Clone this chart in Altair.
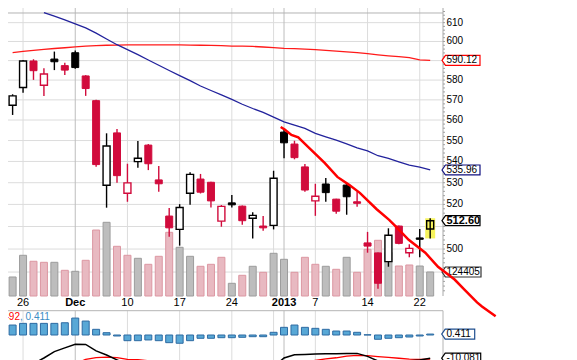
import altair as alt
import pandas as pd
import numpy as np

# ---------------- data ----------------
idx = list(range(41))
day_labels = ["Nov 23", "Nov 26", "Nov 27", "Nov 28", "Nov 29", "Nov 30", "Dec 3", "Dec 4", "Dec 5",
              "Dec 6", "Dec 7", "Dec 10", "Dec 11", "Dec 12", "Dec 13", "Dec 14", "Dec 17", "Dec 18",
              "Dec 19", "Dec 20", "Dec 21", "Dec 24", "Dec 26", "Dec 27", "Dec 28", "Dec 31", "Jan 2",
              "Jan 3", "Jan 4", "Jan 7", "Jan 8", "Jan 9", "Jan 10", "Jan 11", "Jan 14", "Jan 15",
              "Jan 16", "Jan 17", "Jan 18", "Jan 22", "Jan 23"]
opens = [567.3, 576.2, 589.8, 577.4, 590.8, 587.4, 594.1, 582.1, 569.6, 528.8, 553.7, 525.1, 539.9,
         547.8, 531.3, 514.7, 508.7, 525.1, 531.7, 530.2, 512.4, 520.7, 519.2, 513.7, 510.2, 510.5,
         554.1, 548.3, 537.4, 521.6, 529.4, 522.4, 528.9, 521.2, 502.7, 498.3, 494.5, 510.2, 498.4,
         504.9, 508.9]
highs = [572.8, 590.3, 590.7, 586.1, 594.7, 588.9, 595.2, 582.5, 570.0, 553.5, 555.6, 538.9, 549.8,
         548.3, 537.8, 518.4, 520.1, 534.9, 534.1, 530.5, 519.7, 524.3, 519.5, 516.4, 514.7, 535.6,
         555.6, 549.9, 538.8, 529.5, 532.2, 522.6, 529.7, 525.8, 507.6, 498.5, 509.2, 510.5, 502.1,
         508.9, 513.7]
lows = [562.5, 573.6, 580.1, 572.0, 585.1, 582.6, 585.8, 572.0, 537.5, 518.5, 530.0, 521.2, 537.0,
        535.9, 525.8, 505.4, 501.5, 519.8, 525.0, 518.6, 509.9, 518.6, 510.8, 504.6, 508.1, 508.7,
        541.5, 541.0, 525.8, 514.8, 521.2, 515.7, 515.3, 518.9, 498.4, 482.9, 492.3, 502.1, 496.4,
        496.4, 504.7]
closes = [572.0, 589.8, 584.8, 583.1, 589.4, 585.1, 586.4, 575.7, 538.5, 547.4, 533.3, 529.9, 541.5,
          538.9, 529.5, 509.4, 518.6, 533.9, 525.6, 521.6, 519.1, 519.8, 512.6, 515.0, 509.4, 532.1,
          548.9, 541.8, 526.6, 523.7, 525.4, 516.9, 523.5, 520.5, 501.3, 485.2, 506.1, 502.5, 500.3,
          504.3, 512.6]
volumes = [98500, 211000, 180000, 174700, 174700, 133200, 128000, 185000, 342000, 382000, 257600,
           211000, 195400, 164300, 205800, 330200, 252400, 205800, 154000, 164300, 200600, 65800,
           107300, 154000, 122800, 221300, 190200, 122800, 200600, 164300, 154000, 138400, 200600,
           122800, 242100, 288700, 226500, 155500, 160700, 155500, 124405]
sma50_idx = list(range(3, 41))
sma50 = [615.4, 613.5, 611.5, 609.3, 607.2, 604.4, 601.3, 598.3, 595.7, 593.1, 590.3, 587.6, 584.9,
         582.3, 579.7, 577.0, 574.7, 572.5, 570.2, 567.8, 565.7, 563.8, 561.4, 559.1, 557.5, 555.9,
         553.5, 551.8, 550.2, 548.4, 546.5, 545.0, 542.7, 541.5, 539.8, 538.2, 537.3, 535.96]
sma200 = [594.2, 594.8, 595.3, 595.8, 596.3, 596.7, 597.2, 597.6, 597.8, 598.0, 598.1, 598.2, 598.2,
          598.2, 598.2, 598.2, 598.2, 598.1, 598.0, 597.9, 597.8, 597.6, 597.5, 597.4, 597.1, 596.8,
          596.4, 596.2, 596.0, 595.7, 595.3, 594.9, 594.5, 594.1, 593.6, 593.0, 592.5, 592.1, 591.6,
          590.4, 590.12]
trend_idx = [25.68, 26.06, 26.71, 27.36, 28.30, 29.89, 31.11, 32.23, 33.26, 34.85, 36.07, 36.72,
             37.94, 39.53, 40.75, 42.34, 43.28, 44.49, 44.96, 46.27]
trend_price = [556.6, 555.4, 552.7, 551.5, 546.9, 539.3, 532.7, 529.0, 525.3, 517.9, 513.0, 509.9,
               504.1, 498.4, 492.3, 486.8, 482.5, 477.1, 475.4, 471.3]
macd_hist = [4.33, 5.06, 5.06, 5.06, 5.06, 5.32, 7.36, 6.06, 2.47, 1.0, -0.43, -2.47, -2.47, -2.16,
             -2.47, -3.33, -3.59, -2.47, -1.43, -1.43, -1.17, -1.17, -1.0, -0.74, -0.74, 1.17, 3.33,
             4.33, 3.33, 2.9, 2.47, 1.73, 1.73, 1.17, 0.1, -1.86, -1.43, -1.17, -0.87, -0.43, 0.411]
macd_line = [-17.0, -14.5, -12.5, -10.0, -7.2, -5.6, -4.0, -4.1, -6.9, -8.7, -10.8, -13.0, -14.8,
             -16.2, -17.3, -18.6, -19.6, -19.8, -19.5, -19.0, -18.5, -18.0, -17.4, -16.8, -16.0,
             -13.8, -10.0, -8.6, -8.5, -8.3, -8.2, -8.1, -8.0, -8.0, -9.3, -11.3, -11.4, -11.4,
             -11.2, -10.9, -10.081]
macd_signal = [-22.0, -20.5, -19.0, -17.5, -16.0, -14.5, -12.5, -10.6, -9.8, -9.6, -9.8, -10.6, -10.7,
               -11.2, -11.8, -12.6, -13.4, -14.0, -14.4, -14.7, -15.0, -15.2, -15.3, -15.3, -15.2,
               -14.9, -14.0, -13.0, -12.0, -11.0, -10.4, -9.9, -9.2, -8.9, -9.0, -9.4, -9.7, -10.1,
               -10.5, -10.6, -10.492]
week_idx = [1, 11, 16, 21, 25, 29, 34, 39]
month_idx = [6, 26]
xlab_idx = [1, 11, 16, 21, 29, 34, 39]
xlab_text = ["26", "10", "17", "24", "7", "14", "22"]
xlab_bold_idx = [6, 26]
xlab_bold_text = ["Dec", "2013"]
price_grid = [490, 500, 510, 520, 530, 540, 550, 560, 570, 580, 590, 600, 610]
# tick labels that are not hidden behind the value boxes
price_ticklabels = [500, 520, 530, 540, 550, 560, 570, 580, 600, 610]

# ---------------- frames ----------------
df = pd.DataFrame({"i": idx, "day": day_labels, "o": opens, "h": highs, "l": lows, "c": closes,
                   "vol": volumes, "hist": macd_hist, "macd": macd_line, "sig": macd_signal,
                   "sma200": sma200})
prev = df["c"].shift(1).fillna(-1.0)
df["dir"] = np.where(df["c"] >= prev, "up", "down")
df["hollow"] = df["c"] > df["o"]
df["last"] = df["i"] == idx[-1]
s50 = pd.DataFrame({"i": sma50_idx, "v": sma50})
trend = pd.DataFrame({"i": trend_idx, "p": trend_price})
weeks = pd.DataFrame({"i": week_idx})
months = pd.DataFrame({"i": month_idx})
pgrid = pd.DataFrame({"p": price_grid})
plabels = pd.DataFrame({"p": price_ticklabels, "t": [str(v) for v in price_ticklabels]})
minor = pd.DataFrame({"p": list(range(482, 618, 2))})
xl = pd.DataFrame({"i": xlab_idx, "t": xlab_text})
xlb = pd.DataFrame({"i": xlab_bold_idx, "t": xlab_bold_text})
top_border = pd.DataFrame({"p": [615.2]})

FONT = "Liberation Sans"
RED = "#d10b3c"
PW = 435  # plot width inside the chart (px)

xs = alt.Scale(domain=[0.0374, 40.749], range=[0, PW], nice=False, zero=False)
ps = alt.Scale(type="log", domain=[479.8, 617.9], range=[288, 0], nice=False, zero=False)
vs = alt.Scale(domain=[0, 1492848], range=[288, 0], nice=False, zero=False)
ms = alt.Scale(domain=[-20, 10], range=[373, 304], nice=False, zero=False)
candle_scale = alt.Scale(domain=["up", "down"], range=["#000000", RED])

X = lambda f="i": alt.X(f"{f}:Q", scale=xs, axis=None)
YP = lambda f: alt.Y(f"{f}:Q", scale=ps, axis=None)
YM = lambda f: alt.Y(f"{f}:Q", scale=ms, axis=None)


def box_path(w, h, p=3.5):
    a = -1 + 2 * p / w
    b = h / w
    return f"M -1 0 L {a:.3f} {-b:.3f} L 1 {-b:.3f} L 1 {b:.3f} L {a:.3f} {b:.3f} Z"


layers = []
# price panel grid
layers.append(alt.Chart(pgrid).mark_rule(color="#dcdcdc", strokeWidth=1).encode(
    y=YP("p"), x=alt.value(0), x2=alt.value(PW)))
layers.append(alt.Chart(weeks).mark_rule(color="#dcdcdc", strokeWidth=1).encode(
    x=X(), y=alt.value(0), y2=alt.value(288)))
layers.append(alt.Chart(months).mark_rule(color="#bdbdbd", strokeWidth=1).encode(
    x=X(), y=alt.value(0), y2=alt.value(288)))
layers.append(alt.Chart(top_border).mark_rule(color="#b4b4b4", strokeWidth=1).encode(
    y=YP("p"), x=alt.value(0), x2=alt.value(PW)))

# volume
layers.append(alt.Chart(df).mark_bar(size=7, strokeWidth=1).encode(
    x=X(), y=alt.Y("vol:Q", scale=vs, axis=None),
    fill=alt.Fill("dir:N", scale=alt.Scale(domain=["up", "down"], range=["#bdbdbd", "#e8b9c1"]), legend=None),
    stroke=alt.Stroke("dir:N", scale=alt.Scale(domain=["up", "down"], range=["#9c9c9c", "#dc97a2"]), legend=None)))

# moving averages
layers.append(alt.Chart(df).mark_line(color="#ff1a1a", strokeWidth=1.3).encode(x=X(), y=YP("sma200")))
layers.append(alt.Chart(s50).mark_line(color="#22229c", strokeWidth=1.3).encode(x=X(), y=YP("v")))

# highlight of last candle
layers.append(alt.Chart(df).transform_filter("datum.last").mark_bar(size=10, color="#f6f35c").encode(
    x=X(), y=YP("l"), y2="h"))
# wicks
layers.append(alt.Chart(df).mark_rule(strokeWidth=1.4).encode(
    x=X(), y=YP("l"), y2="h", stroke=alt.Stroke("dir:N", scale=candle_scale, legend=None)))
# filled bodies
layers.append(alt.Chart(df).transform_filter("!datum.hollow").mark_bar(size=7, strokeWidth=1).encode(
    x=X(), y=YP("o"), y2="c",
    fill=alt.Fill("dir:N", scale=candle_scale, legend=None),
    stroke=alt.Stroke("dir:N", scale=candle_scale, legend=None)))
# hollow bodies
layers.append(alt.Chart(df).transform_filter("datum.hollow && !datum.last").mark_bar(
    size=7, strokeWidth=1.4, fill="white").encode(
    x=X(), y=YP("o"), y2="c", stroke=alt.Stroke("dir:N", scale=candle_scale, legend=None)))
layers.append(alt.Chart(df).transform_filter("datum.last").mark_bar(
    size=7, strokeWidth=1.4, fillOpacity=0).encode(
    x=X(), y=YP("o"), y2="c", stroke=alt.Stroke("dir:N", scale=candle_scale, legend=None)))

# right price axis
layers.append(alt.Chart(top_border).mark_rule(color="#a8a8a8").encode(
    x=alt.value(PW), y=alt.value(0), y2=alt.value(288)))
layers.append(alt.Chart(minor).mark_rule(color="#a0a0a0").encode(
    y=YP("p"), x=alt.value(PW), x2=alt.value(PW + 2)))
layers.append(alt.Chart(plabels).mark_text(align="left", baseline="middle", font=FONT, fontSize=10,
                                           color="#000").encode(y=YP("p"), x=alt.value(PW + 3.5), text="t:N"))

# x-axis labels
layers.append(alt.Chart(xl).mark_text(align="center", baseline="middle", font=FONT, fontSize=11,
                                      color="#000").encode(x=X(), y=alt.value(295), text="t:N"))
layers.append(alt.Chart(xlb).mark_text(align="center", baseline="middle", font=FONT, fontSize=11,
                                       fontWeight="bold", color="#000").encode(x=X(), y=alt.value(295), text="t:N"))

# MACD panel
layers.append(alt.Chart(weeks).mark_rule(color="#dcdcdc").encode(x=X(), y=alt.value(302.7), y2=alt.value(352)))
layers.append(alt.Chart(months).mark_rule(color="#bdbdbd").encode(x=X(), y=alt.value(302.7), y2=alt.value(352)))
layers.append(alt.Chart(top_border).mark_rule(color="#b4b4b4").encode(
    x=alt.value(0), x2=alt.value(PW), y=alt.value(302.7)))
layers.append(alt.Chart(top_border).mark_rule(color="#b4b4b4").encode(
    x=alt.value(PW), y=alt.value(302.7), y2=alt.value(352)))
layers.append(alt.Chart(df).mark_bar(size=7, fill="#58a8d6", stroke="#2d6aa2", strokeWidth=1).encode(
    x=X(), y=YM("hist")))
layers.append(alt.Chart(df).mark_line(color="#ff0000", strokeWidth=1.3).encode(x=X(), y=YM("sig")))
layers.append(alt.Chart(df).mark_line(color="#000000", strokeWidth=1.5).encode(x=X(), y=YM("macd")))
layers.append(alt.Chart(pd.DataFrame({"t": ["MACD(12,26,9) -10.081, -10.492"]})).mark_text(
    align="right", baseline="middle", font=FONT, fontSize=10, color="#ff0000").encode(
    x=alt.value(12), y=alt.value(308.7), text="t:N"))
layers.append(alt.Chart(pd.DataFrame({"t": [", 0.411"]})).mark_text(
    align="left", baseline="middle", font=FONT, fontSize=10, color="#3a8cc4").encode(
    x=alt.value(12), y=alt.value(308.7), text="t:N"))

# value boxes
pbox = pd.DataFrame({"p": [590.12, 535.96, 512.60], "t": ["590.12", "535.96", "512.60"],
                     "col": ["#ff0000", "#101080", "#000000"], "bold": [False, False, True]})
layers.append(alt.Chart(pbox).mark_point(shape=box_path(38, 10), size=38 * 38, filled=True,
                                         fill="white", strokeWidth=1.2, opacity=1).encode(
    y=YP("p"), x=alt.value(453), stroke=alt.Stroke("col:N", scale=None)))
layers.append(alt.Chart(pbox).transform_filter("!datum.bold").mark_text(
    align="left", baseline="middle", font=FONT, fontSize=10, color="#000").encode(
    y=YP("p"), x=alt.value(438.5), text="t:N"))
layers.append(alt.Chart(pbox).transform_filter("datum.bold").mark_text(
    align="left", baseline="middle", font=FONT, fontSize=11, fontWeight="bold", color="#000").encode(
    y=YP("p"), x=alt.value(438.5), text="t:N"))

vbox = pd.DataFrame({"v": [volumes[-1]], "t": [str(volumes[-1])]})
layers.append(alt.Chart(vbox).mark_point(shape=box_path(39, 10), size=39 * 39, filled=True,
                                         fill="white", stroke="#333333", strokeWidth=1.2, opacity=1).encode(
    y=alt.Y("v:Q", scale=vs, axis=None), x=alt.value(453.5)))
layers.append(alt.Chart(vbox).mark_text(align="left", baseline="middle", font=FONT, fontSize=10,
                                        color="#000").encode(
    y=alt.Y("v:Q", scale=vs, axis=None), x=alt.value(438.5), text="t:N"))

mbox = pd.DataFrame({"v": [macd_hist[-1], macd_line[-1]], "t": ["0.411", "-10.081"],
                     "col": ["#1f4f8f", "#000000"], "w": [33, 39]})
for k in range(2):
    sub = mbox.iloc[[k]]
    w = int(sub["w"].iloc[0])
    layers.append(alt.Chart(sub).mark_point(shape=box_path(w, 10), size=w * w, filled=True,
                                            fill="white", strokeWidth=1.2, opacity=1).encode(
        y=YM("v"), x=alt.value(433.7 + w / 2), stroke=alt.Stroke("col:N", scale=None)))
layers.append(alt.Chart(mbox).mark_text(align="left", baseline="middle", font=FONT, fontSize=10,
                                        color="#000").encode(y=YM("v"), x=alt.value(438.5), text="t:N"))

# drawn trend line (on top, not clipped)
layers.append(alt.Chart(trend).mark_line(color="#ff0000", strokeWidth=2.5, clip=False).encode(
    x=X(), y=YP("p")))

chart = alt.layer(*layers).resolve_scale(
    y="independent", fill="independent", stroke="independent").properties(
    width=540, height=352, autosize=alt.AutoSizeParams(type="none"), padding=0,
    background="white").configure_view(stroke=None)

chart.save("out.html", embed_options={"renderer": "svg", "actions": False})
